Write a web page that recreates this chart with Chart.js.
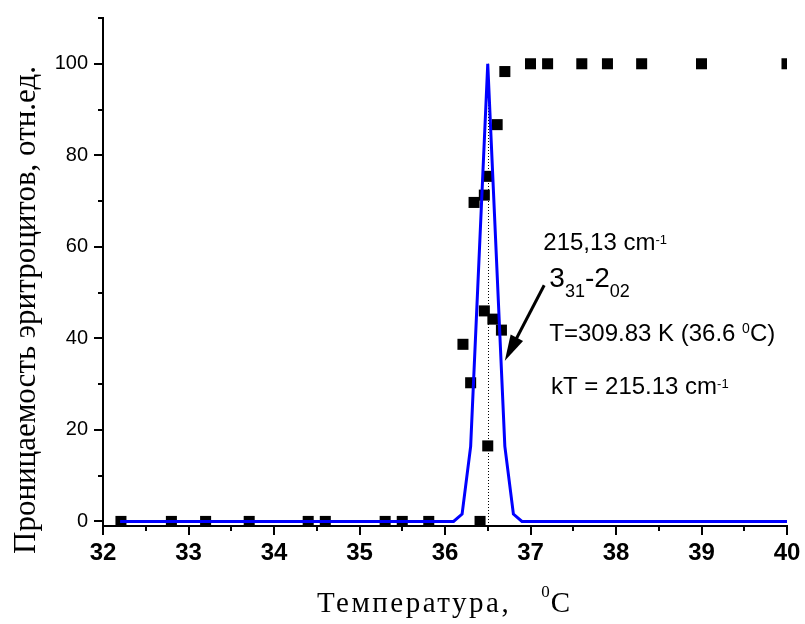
<!DOCTYPE html>
<html>
<head>
<meta charset="utf-8">
<script src="https://cdn.jsdelivr.net/npm/chart.js@4.4.0/dist/chart.umd.min.js"></script>
<style>
html, body { margin: 0; padding: 0; background: #fff; }
#box { width: 805px; height: 624px; }
</style>
</head>
<body>
<div id="box"><canvas id="grafik"></canvas></div>
<script>
// экспериментальные точки (температура, проницаемость)
var tempPoints = [32.21, 32.80, 33.20, 33.71, 34.40, 34.60, 35.30, 35.50, 35.81, 36.41,
    36.21, 36.30, 36.34, 36.46, 36.50, 36.46, 36.56, 36.66, 36.50, 36.61, 36.70,
    37.00, 37.20, 37.60, 37.90, 38.30, 39.00, 40.00];
var permPoints = [0, 0, 0, 0, 0, 0, 0, 0, 0, 0,
    38.7, 30.3, 69.7, 71.3, 75.4, 46.0, 44.2, 41.8, 16.5, 86.7, 98.3,
    100, 100, 100, 100, 100, 100, 100];

// расчетная кривая
var tempCurve = [32.2, 36.1, 36.2, 36.3, 36.5, 36.7, 36.8, 36.9, 40];
var permCurve = [0, 0, 1.6, 16.4, 100, 16.4, 1.6, 0, 0];

// подписи осей
var xTickLabels = [32, 33, 34, 35, 36, 37, 38, 39, 40];
var xMinorTicks = [32.5, 33.5, 34.5, 35.5, 36.5, 37.5, 38.5, 39.5];
var yTickLabels = [0, 20, 40, 60, 80, 100];
var yMinorTicks = [10, 30, 50, 70, 90, 110];

var SANS = '"Liberation Sans", Arial, sans-serif';
var SERIF = '"Liberation Serif", "Times New Roman", serif';

function toXY(xs, ys) {
    return xs.map(function (x, i) { return { x: x, y: ys[i] }; });
}

// рисует строку из кусков с разным размером (индексы, степени)
function drawParts(ctx, x, y, parts, family) {
    parts.forEach(function (p) {
        ctx.font = p[1] + 'px ' + family;
        ctx.fillText(p[0], x, y + (p[2] || 0));
        x += ctx.measureText(p[0]).width;
    });
}

var extras = {
    id: 'extras',
    beforeDatasetsDraw: function (chart) {
        var ctx = chart.ctx, xs = chart.scales.x, ys = chart.scales.y;
        // пунктир на 36.5
        ctx.save();
        ctx.strokeStyle = '#000';
        ctx.lineWidth = 1;
        ctx.setLineDash([1, 2]);
        ctx.beginPath();
        var px = Math.round(xs.getPixelForValue(36.5)) + 0.5;
        ctx.moveTo(px, ys.getPixelForValue(-1));
        ctx.lineTo(px, ys.getPixelForValue(100));
        ctx.stroke();
        ctx.restore();
    },
    afterDraw: function (chart) {
        var ctx = chart.ctx, xs = chart.scales.x, ys = chart.scales.y;
        var a = chart.chartArea;
        ctx.save();
        // засечки
        ctx.strokeStyle = '#000';
        ctx.lineWidth = 2;
        ctx.beginPath();
        xTickLabels.forEach(function (v) {
            var p = Math.round(xs.getPixelForValue(v));
            ctx.moveTo(p, a.bottom); ctx.lineTo(p, a.bottom + 9);
        });
        xMinorTicks.forEach(function (v) {
            var p = Math.round(xs.getPixelForValue(v));
            ctx.moveTo(p, a.bottom); ctx.lineTo(p, a.bottom + 5);
        });
        yTickLabels.forEach(function (v) {
            var p = Math.round(ys.getPixelForValue(v));
            ctx.moveTo(a.left, p); ctx.lineTo(a.left - 9, p);
        });
        yMinorTicks.forEach(function (v) {
            var p = Math.round(ys.getPixelForValue(v));
            ctx.moveTo(a.left, p); ctx.lineTo(a.left - 5, p);
        });
        ctx.stroke();

        // стрелка
        var x1 = xs.getPixelForValue(37.16), y1 = ys.getPixelForValue(51.6);
        var x2 = xs.getPixelForValue(36.70), y2 = ys.getPixelForValue(35.1);
        var ang = Math.atan2(y2 - y1, x2 - x1);
        ctx.lineWidth = 3;
        ctx.beginPath();
        ctx.moveTo(x1, y1);
        ctx.lineTo(x2 - 20 * Math.cos(ang), y2 - 20 * Math.sin(ang));
        ctx.stroke();
        ctx.fillStyle = '#000';
        ctx.beginPath();
        ctx.moveTo(x2, y2);
        ctx.lineTo(x2 - 26 * Math.cos(ang) + 7 * Math.sin(ang), y2 - 26 * Math.sin(ang) - 7 * Math.cos(ang));
        ctx.lineTo(x2 - 26 * Math.cos(ang) - 7 * Math.sin(ang), y2 - 26 * Math.sin(ang) + 7 * Math.cos(ang));
        ctx.closePath();
        ctx.fill();

        // надписи
        ctx.textAlign = 'left';
        ctx.textBaseline = 'alphabetic';
        drawParts(ctx, xs.getPixelForValue(37.15), ys.getPixelForValue(59.2),
            [['215,13 cm', 24], ['-1', 13, -6]], SANS);
        drawParts(ctx, xs.getPixelForValue(37.22), ys.getPixelForValue(51.3),
            [['3', 28], ['31', 18, 10], ['-', 28], ['2', 28], ['02', 18, 10]], SANS);
        drawParts(ctx, xs.getPixelForValue(37.22), ys.getPixelForValue(39.4),
            [['T=309.83 K (36.6 ', 24], ['0', 14, -8], ['C)', 24]], SANS);
        drawParts(ctx, xs.getPixelForValue(37.24), ys.getPixelForValue(27.95),
            [['kT = 215.13 cm', 24], ['-1', 13, -6]], SANS);

        // подпись оси X
        ctx.font = '29px ' + SERIF;
        ctx.letterSpacing = '2.5px';
        var w1 = ctx.measureText('Температура,').width;
        ctx.letterSpacing = '0px';
        ctx.font = '17px ' + SERIF;
        var w2 = ctx.measureText('0').width;
        ctx.font = '29px ' + SERIF;
        var w3 = ctx.measureText('C').width;
        var total = w1 + 30 + w2 + w3;
        var sx = (a.left + a.right) / 2 - total / 2 - 2;
        ctx.letterSpacing = '2.5px';
        ctx.fillText('Температура,', sx, 612);
        ctx.letterSpacing = '0px';
        ctx.font = '17px ' + SERIF;
        ctx.fillText('0', sx + w1 + 30, 597);
        ctx.font = '29px ' + SERIF;
        ctx.fillText('C', sx + w1 + 30 + w2 + 1, 612);

        // подпись оси Y
        ctx.translate(35, 310);
        ctx.rotate(-Math.PI / 2);
        ctx.textAlign = 'center';
        ctx.font = '31px ' + SERIF;
        ctx.fillText('Проницаемость эритроцитов, отн.ед.', 0, 0);
        ctx.restore();
    }
};

var data = {
    datasets: [{
        data: toXY(tempCurve, permCurve),
        showLine: true,
        borderColor: 'rgb(0,0,255)',
        borderWidth: 3,
        pointRadius: 0,
        tension: 0,
        order: 0
    }, {
        data: toXY(tempPoints, permPoints),
        pointStyle: 'rect',
        pointRadius: 7.8,
        pointBorderWidth: 0,
        backgroundColor: '#000',
        borderColor: '#000',
        clip: 0,
        order: 1
    }]
};

var config = {
    type: 'scatter',
    data: data,
    plugins: [extras],
    options: {
        responsive: true,
        maintainAspectRatio: false,
        animation: false,
        layout: { padding: { top: 15, right: 18, left: 0, bottom: 0 } },
        plugins: { legend: { display: false }, tooltip: { enabled: false } },
        scales: {
            x: {
                type: 'linear',
                min: 32,
                max: 40,
                afterBuildTicks: function (s) {
                    s.ticks = xTickLabels.map(function (v) { return { value: v }; });
                },
                afterFit: function (s) { s.height = 98; },
                grid: { display: false, tickLength: 9 },
                border: { display: true, color: '#000', width: 2 },
                ticks: {
                    color: '#000',
                    padding: 4,
                    maxRotation: 0,
                    autoSkip: false,
                    font: { family: SANS, size: 24, weight: 'bold' }
                }
            },
            y: {
                type: 'linear',
                min: -1,
                max: 110,
                afterBuildTicks: function (s) {
                    s.ticks = yTickLabels.map(function (v) { return { value: v }; });
                },
                afterFit: function (s) { s.width = 103; },
                grid: { display: false, tickLength: 9 },
                border: { display: true, color: '#000', width: 2 },
                ticks: {
                    color: '#000',
                    padding: 6,
                    autoSkip: false,
                    font: { family: SANS, size: 20 }
                }
            }
        }
    }
};

var myChart = new Chart(document.getElementById('grafik'), config);
</script>
</body>
</html>
